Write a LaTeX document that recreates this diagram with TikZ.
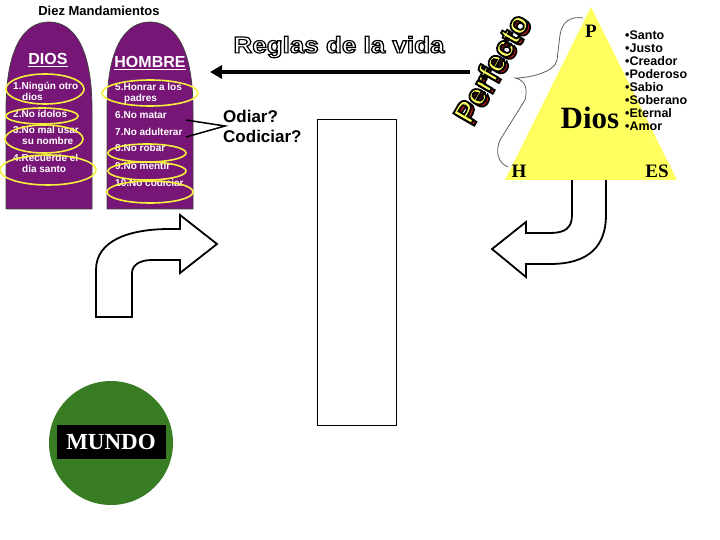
\documentclass[tikz,border=0pt]{standalone}
\usepackage{fontspec}
\setmainfont{Liberation Serif}
\setsansfont{Liberation Sans}
\newfontfamily\outlinefont[FakeBold=5]{Liberation Sans Bold}
\newfontfamily\perffont[FakeBold=6]{Liberation Sans Bold}
\usetikzlibrary{arrows.meta}
\definecolor{purpleT}{RGB}{120,22,120}
\definecolor{ringY}{RGB}{245,240,60}
\definecolor{triY}{RGB}{255,255,95}
\definecolor{globeG}{RGB}{56,125,36}
\definecolor{braceG}{RGB}{95,95,95}
\definecolor{shadowR}{RGB}{190,20,20}
\newcommand{\blackstroke}{\special{pdf:literal direct 0 0 0 RG}}
\begin{document}
\begin{tikzpicture}[x=1pt,y=-1pt,
  tab/.style={fill=purpleT, draw=black!75, line width=0.8},
  item/.style={anchor=west, inner sep=0, text=white, font=\sffamily\bfseries\fontsize{10}{11}\selectfont, text height=7pt, text depth=0pt},
  head/.style={inner sep=0, text=white, font=\sffamily\bfseries\fontsize{16}{18}\selectfont},
  ring/.style={draw=ringY, line width=1.6},
  attr/.style={anchor=west, inner sep=0, font=\sffamily\bfseries\fontsize{12.5}{13}\selectfont, text height=9pt, text depth=0pt},
  vert/.style={inner sep=0, font=\rmfamily\bfseries\fontsize{19}{20}\selectfont},
  reglas/.style={inner sep=0, xscale=1.13, font=\outlinefont\fontsize{23}{24}\selectfont},
  perf/.style={inner sep=0, rotate=60, font=\perffont\fontsize{30}{32}\selectfont},
  blockarrow/.style={fill=white, draw=black, line width=1.8, line join=miter},
  question/.style={anchor=west, inner sep=0, font=\sffamily\bfseries\fontsize{17}{19}\selectfont, text height=12pt, text depth=0pt}]
\useasboundingbox (0,0) rectangle (720,540);

% title
\node[inner sep=0, font=\sffamily\bfseries\fontsize{13}{14}\selectfont] (title) at (99,11) {Diez Mandamientos};

% tablets
\draw[tab] (6,209) -- (6,110) .. controls (6,48) and (24,22) .. (49,22) .. controls (74,22) and (92,48) .. (92,110) -- (92,209) -- cycle;
\draw[tab] (107,209) -- (107,110) .. controls (107,48) and (125,22) .. (150,22) .. controls (175,22) and (193,48) .. (193,110) -- (193,209) -- cycle;

\node[head] (dios) at (48,60) {\underline{DIOS}};
\node[head] (hombre) at (150,63) {\underline{HOMBRE}};

% left items
\node[item] (c1) at (13,86) {1.Ningún otro};
\node[item] (c1b) at (22,97) {dios};
\node[item] (c2) at (13,114) {2.No ídolos};
\node[item] (c3) at (13,130) {3.No mal usar};
\node[item] (c3b) at (22,141) {su nombre};
\node[item] (c4) at (13,158) {4.Recuerde el};
\node[item] (c4b) at (22,169) {día santo};

% right items
\node[item] (c5) at (115,87) {5.Honrar a los};
\node[item] (c5b) at (124,98) {padres};
\node[item] (c6) at (115,115) {6.No matar};
\node[item] (c7) at (115,132) {7.No adulterar};
\node[item] (c8) at (115,148) {8.No robar};
\node[item] (c9) at (115,166) {9.No mentir};
\node[item] (c10) at (115,183) {10.No codiciar};

% yellow rings
\draw[ring] (45,89) ellipse [x radius=39, y radius=15];
\draw[ring] (42,116) ellipse [x radius=36, y radius=8];
\draw[ring] (44,139) ellipse [x radius=39, y radius=14];
\draw[ring] (48,170) ellipse [x radius=48, y radius=15];
\draw[ring] (150,93) ellipse [x radius=48, y radius=13];
\draw[ring] (147,153) ellipse [x radius=39, y radius=9];
\draw[ring] (147,171) ellipse [x radius=39, y radius=9];
\draw[ring] (150,192) ellipse [x radius=43, y radius=11];

% connector to questions
\coordinate (la) at (186,120);
\coordinate (lb) at (186,137);
\coordinate (lv) at (225,126);
\draw[line width=1.5] (la) -- (lv) -- (lb);
\node[question] (odiar) at (223,117) {Odiar?};
\node[question] (codiciar) at (223,137) {Codiciar?};

% tall box
\node[draw, line width=1, minimum width=79, minimum height=305, inner sep=0] (box) at (356.5,272.5) {};

% Reglas de la vida arrow
\coordinate (rgS) at (470,72);
\coordinate (rgE) at (210,72);
\draw[line width=4, -{Triangle[length=12pt,width=13pt]}] (rgS) -- (rgE);
\node[reglas, text=white] (rgt) at (339,47) {\blackstroke Reglas de la vida};

% right block arrow (under triangle)
\draw[blockarrow] (572,179) -- (572,215) .. controls (572,228) and (565,233) .. (550,233) -- (526,233) -- (526,222) -- (492,249) -- (526,277) -- (526,264) -- (550,264) .. controls (590,264) and (606,245) .. (606,215) -- (606,179) -- cycle;

% triangle
\fill[triY] (591,7) -- (505,180) -- (677,180) -- cycle;
\node[vert] (P) at (591,31) {P};
\node[vert] (H) at (519,171) {H};
\node[vert] (ES) at (657,171) {ES};
\node[inner sep=0, font=\rmfamily\bfseries\fontsize{31}{32}\selectfont] (Dios) at (590,118) {Dios};

% attributes
\node[attr] (a1) at (625,35) {•Santo};
\node[attr] (a2) at (625,48) {•Justo};
\node[attr] (a3) at (625,61) {•Creador};
\node[attr] (a4) at (625,74) {•Poderoso};
\node[attr] (a5) at (625,87) {•Sabio};
\node[attr] (a6) at (625,100) {•Soberano};
\node[attr] (a7) at (625,113) {•Eternal};
\node[attr] (a8) at (625,126) {•Amor};

% brace
\draw[braceG, line width=0.8] (583,18) .. controls (570,16) and (562,22) .. (560,35) -- (557,60) .. controls (555,72) and (530,78) .. (515,78) .. controls (525,80) and (528,88) .. (525,100) -- (500,140) .. controls (495,152) and (498,163) .. (508,167);

% Perfecto
\node[perf, text=shadowR] (pfs) at (494,70) {\blackstroke Perfecto};
\node[perf, text=triY] (pft) at (491,68) {\blackstroke Perfecto};

% left block arrow
\draw[blockarrow] (96,317) -- (96,270) .. controls (96,240) and (130,229) .. (170,229) -- (180,229) -- (180,215) -- (217,244) -- (180,273) -- (180,260) -- (152,260) .. controls (140,260) and (132,265) .. (132,273) -- (132,317) -- cycle;

% mundo
\node[circle, fill=globeG, minimum size=124, inner sep=0] (globe) at (111,443) {};
\node[fill=black, text=white, minimum width=109, minimum height=34, inner sep=0, font=\rmfamily\bfseries\fontsize{23}{24}\selectfont] (mundo) at (111,442) {MUNDO};
\end{tikzpicture}
\end{document}
